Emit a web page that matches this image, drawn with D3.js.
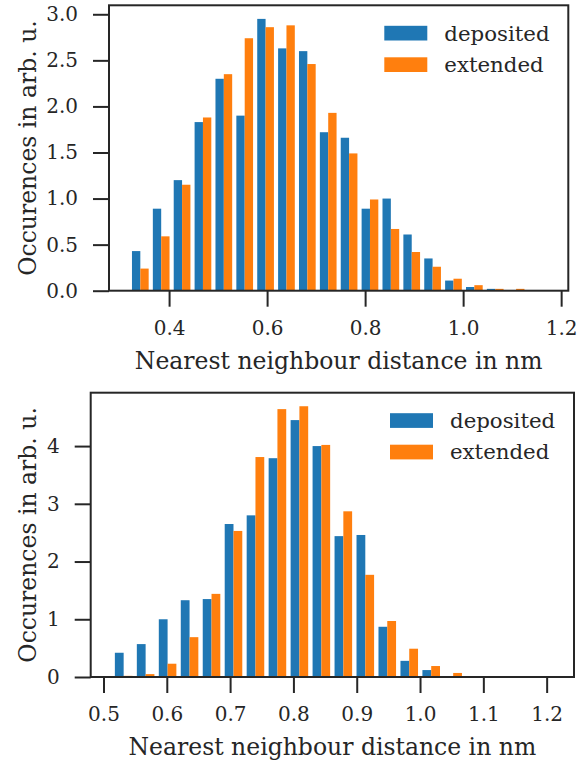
<!DOCTYPE html>
<html>
<head>
<meta charset="utf-8">
<script src="https://cdn.jsdelivr.net/npm/d3@7"></script>
<style>
  html, body { margin: 0; padding: 0; background: #fff; }
  svg text { font-family: "DejaVu Serif", serif; fill: #262626; }
</style>
</head>
<body>
<div class="container"></div>
<script>
// histogram heights (20 bins per panel)
const topDeposited = [0.43, 0.89, 1.20, 1.83, 2.30, 1.90, 2.95, 2.63, 2.60, 1.72,
  1.66, 0.89, 1.00, 0.61, 0.35, 0.11, 0.04, 0.02, 0, 0];
const topExtended = [0.24, 0.59, 1.15, 1.88, 2.35, 2.74, 2.86, 2.88, 2.46, 1.93,
  1.49, 0.99, 0.67, 0.42, 0.26, 0.13, 0.06, 0.02, 0.02, 0];
const topBins = { start: 0.320, width: 0.0426, count: 20 };
const topTicksX = [0.4, 0.6, 0.8, 1.0, 1.2];
const topTicksY = [0, 0.5, 1, 1.5, 2, 2.5, 3];

const bottomDeposited = [0.42, 0.57, 1.00, 1.33, 1.35, 2.65, 2.80, 3.79, 4.45, 4.00,
  2.44, 2.46, 0.87, 0.28, 0.12, 0, 0, 0, 0, 0];
const bottomExtended = [0.02, 0.05, 0.23, 0.69, 1.44, 2.53, 3.81, 4.64, 4.69, 4.02,
  2.87, 1.77, 0.97, 0.49, 0.19, 0.07, 0, 0, 0, 0];
const bottomBins = { start: 0.5145, width: 0.0347, count: 20 };
const bottomTicksX = [0.5, 0.6, 0.7, 0.8, 0.9, 1.0, 1.1, 1.2];
const bottomTicksY = [0, 1, 2, 3, 4];

const seriesNames = ["deposited", "extended"];
const COLORS = ["#1f77b4", "#ff7f0e"];

const WIDTH = 587, HEIGHT = 763;
const INK = "#262626";
const TICK_LEN = 16;
const FONT_TICK = 20;
const FONT_LABEL = 23.5;
const FONT_LEGEND = 21.3;

const svg = d3.select(".container").append("svg")
  .attr("width", WIDTH).attr("height", HEIGHT)
  .attr("viewBox", [0, 0, WIDTH, HEIGHT]);

function drawPanel(box, bins, series, ticksX, ticksY, yFormat) {
  const lo = bins.start, hi = bins.start + bins.width * bins.count;
  const pad = (hi - lo) * 0.05;
  const x = d3.scaleLinear().domain([lo - pad, hi + pad])
    .range([box.left, box.right]);
  const ymax = d3.max(series.flat()) * 1.05;
  const y = d3.scaleLinear().domain([0, ymax]).range([box.bottom, box.top]);

  const g = svg.append("g");

  // grouped bars: 80% of the bin, split between the series
  const barW = bins.width * 0.8 / series.length;
  series.forEach((vals, s) => {
    g.append("g").attr("fill", COLORS[s])
      .selectAll("rect")
      .data(vals.map((v, i) => ({ v, i })).filter((d) => d.v > 0))
      .join("rect")
      .attr("x", (d) => x(lo + d.i * bins.width + bins.width * 0.1 + s * barW))
      .attr("width", x(lo + barW) - x(lo))
      .attr("y", (d) => y(d.v))
      .attr("height", (d) => y(0) - y(d.v));
  });

  // axes
  const xAxis = g.append("g")
    .attr("transform", `translate(0,${box.bottom})`)
    .call(d3.axisBottom(x).tickValues(ticksX).tickFormat(d3.format(".1f"))
      .tickSize(TICK_LEN).tickPadding(14));
  const yAxis = g.append("g")
    .attr("transform", `translate(${box.left},0)`)
    .call(d3.axisLeft(y).tickValues(ticksY).tickFormat(yFormat)
      .tickSize(TICK_LEN).tickPadding(15));
  [xAxis, yAxis].forEach((ax) => {
    ax.select(".domain").remove();
    ax.selectAll("line").attr("stroke", INK).attr("stroke-width", 2);
    ax.selectAll("text").attr("fill", INK)
      .style("font-family", "'DejaVu Serif', serif")
      .style("font-size", FONT_TICK + "px");
  });

  // frame
  g.append("rect")
    .attr("x", box.left).attr("y", box.top)
    .attr("width", box.right - box.left).attr("height", box.bottom - box.top)
    .attr("fill", "none").attr("stroke", INK).attr("stroke-width", 2);

  // labels
  g.append("text")
    .attr("x", (box.left + box.right) / 2)
    .attr("y", box.bottom + 78)
    .attr("text-anchor", "middle")
    .style("font-size", FONT_LABEL + "px")
    .text("Nearest neighbour distance in nm");
  const cy = (box.top + box.bottom) / 2;
  g.append("text")
    .attr("transform", `translate(36,${cy}) rotate(-90)`)
    .attr("text-anchor", "middle")
    .style("font-size", FONT_LABEL + "px")
    .text("Occurences in arb. u.");

  // legend
  const lx = box.right - 184, ly = box.top + 20.5;
  const leg = g.append("g").selectAll("g").data(seriesNames).join("g")
    .attr("transform", (d, i) => `translate(${lx},${ly + i * 31.5})`);
  leg.append("rect").attr("width", 43).attr("height", 14.7)
    .attr("fill", (d, i) => COLORS[i]);
  leg.append("text").attr("x", 60).attr("y", 14.7)
    .style("font-size", FONT_LEGEND + "px")
    .text((d) => d);
}

drawPanel({ left: 109, right: 568.3, top: 5.3, bottom: 290.7 }, topBins,
  [topDeposited, topExtended], topTicksX, topTicksY, d3.format(".1f"));
drawPanel({ left: 90.7, right: 574, top: 392.7, bottom: 677 }, bottomBins,
  [bottomDeposited, bottomExtended], bottomTicksX, bottomTicksY, d3.format("d"));
</script>
</body>
</html>
